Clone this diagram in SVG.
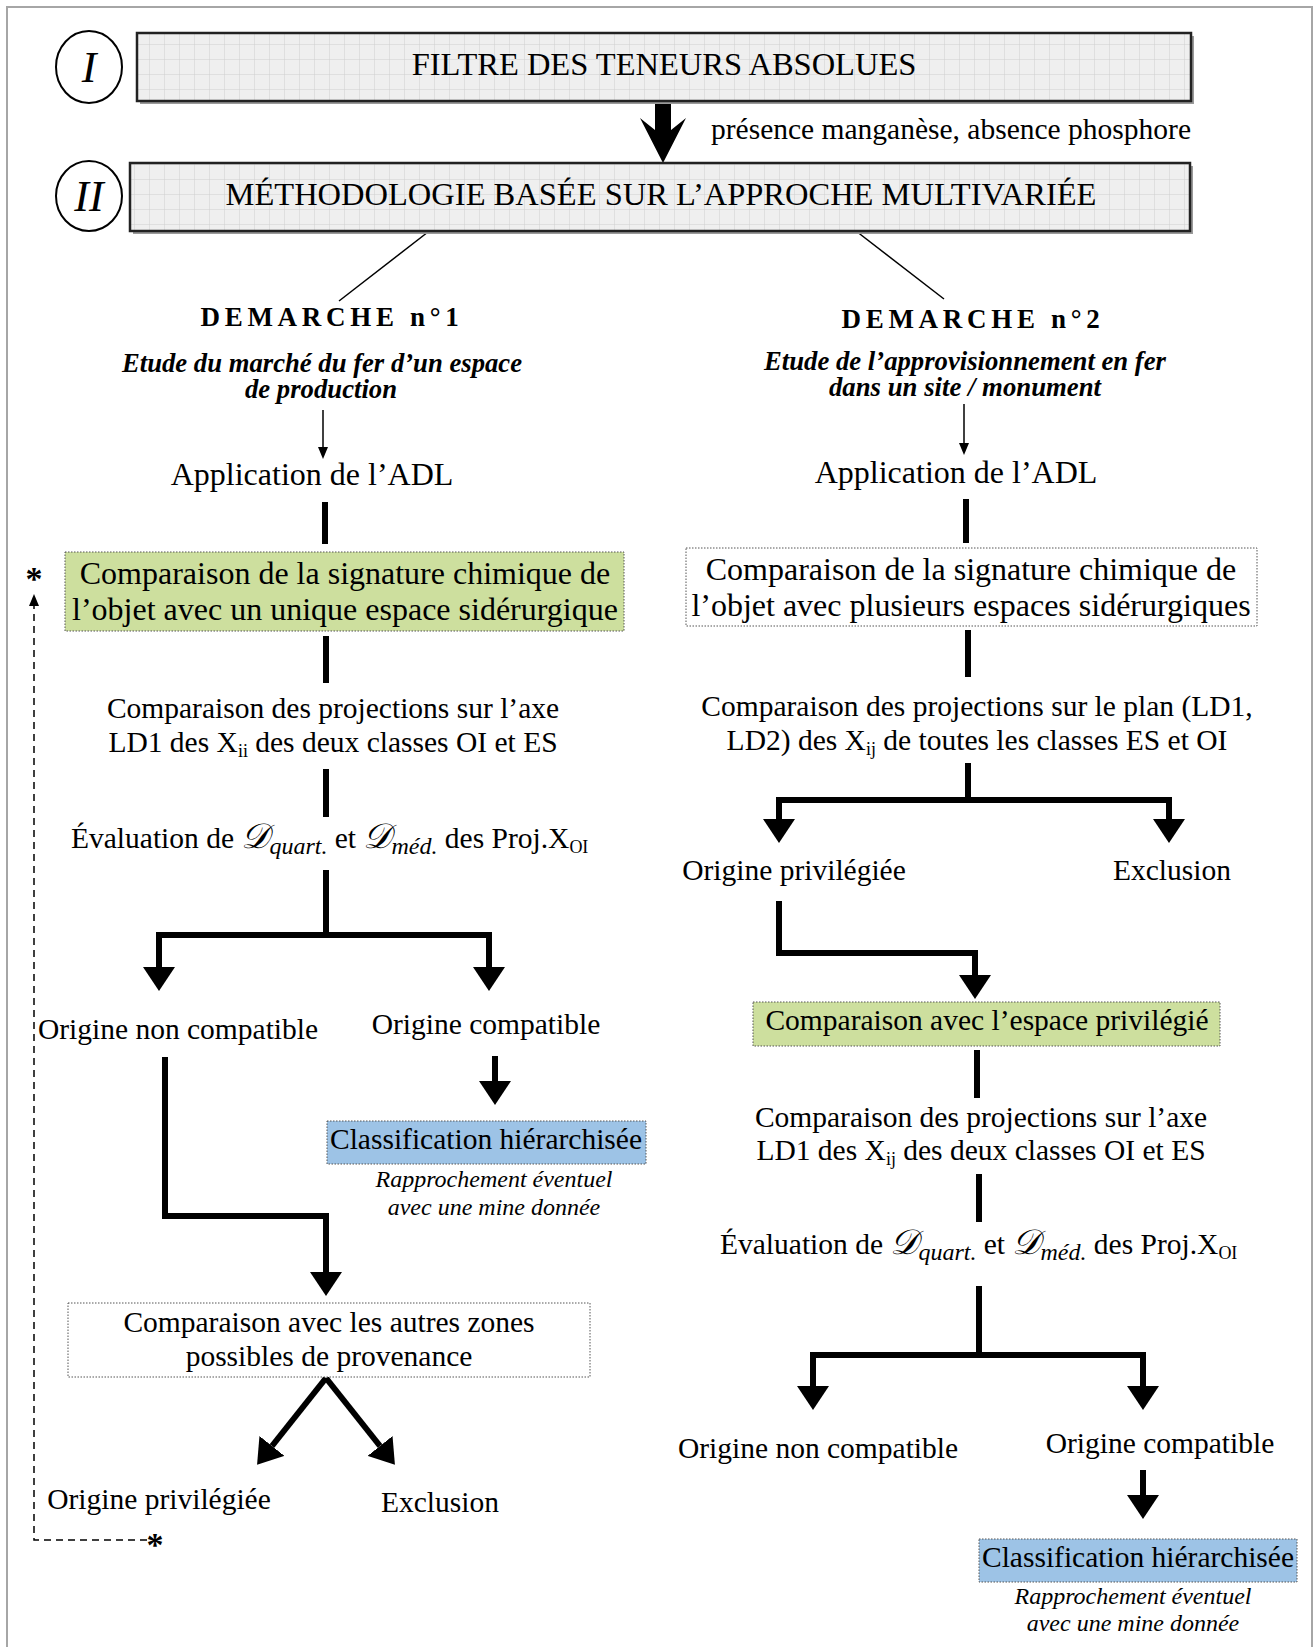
<svg xmlns="http://www.w3.org/2000/svg" width="1315" height="1647" viewBox="0 0 1315 1647">
<defs>
<pattern id="grid" width="15" height="15" patternUnits="userSpaceOnUse">
<rect width="15" height="15" fill="#efefef"/>
<path d="M15,0 V15 M0,15 H15" stroke="#cfcfcf" stroke-width="1" fill="none"/>
</pattern>
<marker id="big" markerUnits="userSpaceOnUse" viewBox="0 0 24 32" markerWidth="24" markerHeight="32" refX="0" refY="16" orient="auto">
<path d="M0,0 L24,16 L0,32 z" fill="#000"/>
</marker>
<marker id="small" markerUnits="userSpaceOnUse" viewBox="0 0 12 10" markerWidth="12" markerHeight="10" refX="0" refY="5" orient="auto">
<path d="M0,0 L12,5 L0,10 z" fill="#000"/>
</marker>
<marker id="dash" markerUnits="userSpaceOnUse" viewBox="0 0 12 10" markerWidth="12" markerHeight="10" refX="0" refY="5" orient="auto">
<path d="M0,0 L12,5 L0,10 z" fill="#000"/>
</marker>
</defs>
<style>
text{font-family:"Liberation Serif","Times New Roman",serif;fill:#000}
.t{font-size:29.5px;text-anchor:middle}
.L{font-size:32px;text-anchor:middle}
.h{font-size:32.5px;text-anchor:middle}
.sub{font-size:27px;font-weight:bold;font-style:italic;text-anchor:middle}
.dem{font-size:27px;font-weight:bold;letter-spacing:4.7px;text-anchor:middle}
.it{font-size:24px;font-style:italic;text-anchor:middle}
.hdr{fill:url(#grid);stroke:#222;stroke-width:2.5}
.shadow{fill:#9a9a9a}
.green{fill:#cddf9e;stroke:#555;stroke-width:1;stroke-dasharray:1.5,1.5}
.blue{fill:#9dc3e6;stroke:#555;stroke-width:1;stroke-dasharray:1.5,1.5}
.white{fill:#fff;stroke:#555;stroke-width:1;stroke-dasharray:1.5,1.5}
.thick{fill:none;stroke:#000;stroke-width:6}
.thin{fill:none;stroke:#000;stroke-width:1.5}
.sc{font-family:"DejaVu Serif","Liberation Serif",serif;font-style:italic;font-size:35px}
.si{font-size:24px;font-style:italic}
.ss{font-size:18px}
</style>
<rect x="7" y="7" width="1305" height="1660" fill="#fff" stroke="#a6a6a6" stroke-width="2"/>

<g id="connectors">
<polygon points="655,100 671,100 671,130 686,118 663,163 640,118 655,130" fill="#000"/>
<line class="thin" x1="428" y1="232" x2="339" y2="301"/>
<line class="thin" x1="856" y1="231" x2="944" y2="299"/>
<line class="thin" x1="323" y1="410" x2="323" y2="447" marker-end="url(#small)"/>
<line class="thin" x1="964" y1="404" x2="964" y2="443" marker-end="url(#small)"/>
<line class="thick" x1="325" y1="502" x2="325" y2="544"/>
<line class="thick" x1="966" y1="499" x2="966" y2="543"/>
<line class="thick" x1="326" y1="636" x2="326" y2="683"/>
<line class="thick" x1="968" y1="630" x2="968" y2="677"/>
<line class="thick" x1="326" y1="769" x2="326" y2="817"/>
<line class="thick" x1="968" y1="763" x2="968" y2="800"/>
<path class="thick" d="M779,821 V800 H1169 V821" />
<line class="thick" x1="779" y1="800" x2="779" y2="819" marker-end="url(#big)"/>
<line class="thick" x1="1169" y1="800" x2="1169" y2="819" marker-end="url(#big)"/>
<line class="thick" x1="326" y1="870" x2="326" y2="935"/>
<path class="thick" d="M159,966 V935 H489 V966"/>
<line class="thick" x1="159" y1="935" x2="159" y2="967" marker-end="url(#big)"/>
<line class="thick" x1="489" y1="935" x2="489" y2="967" marker-end="url(#big)"/>
<path class="thick" d="M165,1057 V1216 H326 V1272" marker-end="url(#big)"/>
<line class="thick" x1="495" y1="1056" x2="495" y2="1081" marker-end="url(#big)"/>
<line class="thick" x1="326" y1="1378" x2="272" y2="1446" marker-end="url(#big)"/>
<line class="thick" x1="326" y1="1378" x2="380" y2="1446" marker-end="url(#big)"/>
<path class="thick" d="M779,901 V953 H975 V975" marker-end="url(#big)"/>
<line class="thick" x1="977" y1="1050" x2="977" y2="1098"/>
<line class="thick" x1="979" y1="1174" x2="979" y2="1222"/>
<line class="thick" x1="979" y1="1286" x2="979" y2="1355"/>
<path class="thick" d="M813,1386 V1355 H1143 V1386"/>
<line class="thick" x1="813" y1="1355" x2="813" y2="1386" marker-end="url(#big)"/>
<line class="thick" x1="1143" y1="1355" x2="1143" y2="1386" marker-end="url(#big)"/>
<line class="thick" x1="1143" y1="1470" x2="1143" y2="1495" marker-end="url(#big)"/>
<path fill="none" stroke="#000" stroke-width="1.5" stroke-dasharray="7,5" d="M147,1540 H34 V606" marker-end="url(#dash)"/>
</g>

<g id="n-circle1"><ellipse cx="89" cy="67" rx="33" ry="36" fill="#fff" stroke="#000" stroke-width="2"/><text x="89" y="82" style="font-size:44px;font-style:italic;text-anchor:middle">I</text></g>
<g id="n-circle2"><ellipse cx="89" cy="196" rx="33" ry="35" fill="#fff" stroke="#000" stroke-width="2"/><text x="89" y="211" style="font-size:44px;font-style:italic;text-anchor:middle">II</text></g>

<g id="n-filtre"><rect class="shadow" x="140" y="36" width="1054" height="68"/><rect class="hdr" x="137" y="33" width="1054" height="68"/><text class="h" x="664" y="75">FILTRE DES TENEURS ABSOLUES</text></g>
<text x="711" y="139" style="font-size:29.5px">présence manganèse, absence phosphore</text>
<g id="n-methodo"><rect class="shadow" x="133" y="166" width="1060" height="68"/><rect class="hdr" x="130" y="163" width="1060" height="68"/><text class="h" x="661" y="205">MÉTHODOLOGIE BASÉE SUR L’APPROCHE MULTIVARIÉE</text></g>

<g id="n-dem1"><text class="dem" x="332" y="326">DEMARCHE  n°1</text>
<text class="sub" x="322" y="372" textLength="400" lengthAdjust="spacingAndGlyphs">Etude du marché du fer d’un espace</text>
<text class="sub" x="321" y="398" textLength="152" lengthAdjust="spacingAndGlyphs">de production</text></g>
<g id="n-dem2"><text class="dem" x="973" y="328">DEMARCHE  n°2</text>
<text class="sub" x="965" y="370" textLength="402" lengthAdjust="spacingAndGlyphs">Etude de l’approvisionnement en fer</text>
<text class="sub" x="965" y="396" textLength="272" lengthAdjust="spacingAndGlyphs">dans un site / monument</text></g>

<g id="n-adl1"><text class="L" x="312" y="485">Application de l’ADL</text></g>
<g id="n-adl2"><text class="L" x="956" y="483">Application de l’ADL</text></g>

<g id="n-comp1"><rect class="green" x="65" y="552" width="559" height="79"/><text class="L" x="345" y="584">Comparaison de la signature chimique de</text><text class="L" x="345" y="620">l’objet avec un unique espace sidérurgique</text></g>
<text x="34" y="590" style="font-size:34px;font-weight:bold;text-anchor:middle">*</text>
<text x="155" y="1556" style="font-size:34px;font-weight:bold;text-anchor:middle">*</text>

<g id="n-comp2"><rect class="white" x="686" y="548" width="571" height="78"/><text class="L" x="971" y="580">Comparaison de la signature chimique de</text><text class="L" x="971" y="616">l’objet avec plusieurs espaces sidérurgiques</text></g>

<g id="n-proj1"><text class="t" x="333" y="718">Comparaison des projections sur l’axe</text><text class="t" x="333" y="752">LD1 des X<tspan class="ss" dy="5">ii</tspan><tspan dy="-5"> des deux classes OI et ES</tspan></text></g>
<g id="n-proj2"><text class="t" x="977" y="716">Comparaison des projections sur le plan (LD1,</text><text class="t" x="977" y="750">LD2) des X<tspan class="ss" dy="5">ij</tspan><tspan dy="-5"> de toutes les classes ES et OI</tspan></text></g>

<g id="n-eval1"><text x="71" y="848" style="font-size:29.5px">Évaluation de <tspan class="sc">𝒟</tspan><tspan class="si" dy="6">quart.</tspan><tspan dy="-6"> et </tspan><tspan class="sc">𝒟</tspan><tspan class="si" dy="6">méd.</tspan><tspan dy="-6"> des Proj.X</tspan><tspan class="ss" dy="5">OI</tspan></text></g>

<g id="n-orig-pr2"><text class="t" x="794" y="880">Origine privilégiée</text></g>
<g id="n-excl2"><text class="t" x="1172" y="880">Exclusion</text></g>

<g id="n-nc1"><text class="t" x="178" y="1039">Origine non compatible</text></g>
<g id="n-c1"><text class="t" x="486" y="1034">Origine compatible</text></g>

<g id="n-class1"><rect class="blue" x="327" y="1121" width="319" height="43"/><text class="t" x="486" y="1149">Classification hiérarchisée</text>
<text class="it" x="494" y="1187">Rapprochement éventuel</text><text class="it" x="494" y="1215">avec une mine donnée</text></g>

<g id="n-espace"><rect class="green" x="753" y="1002" width="467" height="44"/><text class="t" x="987" y="1030">Comparaison avec l’espace privilégié</text></g>

<g id="n-proj3"><text class="t" x="981" y="1127">Comparaison des projections sur l’axe</text><text class="t" x="981" y="1160">LD1 des X<tspan class="ss" dy="5">ij</tspan><tspan dy="-5"> des deux classes OI et ES</tspan></text></g>

<g id="n-eval2"><text x="720" y="1254" style="font-size:29.5px">Évaluation de <tspan class="sc">𝒟</tspan><tspan class="si" dy="6">quart.</tspan><tspan dy="-6"> et </tspan><tspan class="sc">𝒟</tspan><tspan class="si" dy="6">méd.</tspan><tspan dy="-6"> des Proj.X</tspan><tspan class="ss" dy="5">OI</tspan></text></g>

<g id="n-autres"><rect class="white" x="68" y="1303" width="522" height="74"/><text class="t" x="329" y="1332">Comparaison avec les autres zones</text><text class="t" x="329" y="1366">possibles de provenance</text></g>

<g id="n-orig-pr1"><text class="t" x="159" y="1509">Origine privilégiée</text></g>
<g id="n-excl1"><text class="t" x="440" y="1512">Exclusion</text></g>

<g id="n-nc2"><text class="t" x="818" y="1458">Origine non compatible</text></g>
<g id="n-c2"><text class="t" x="1160" y="1453">Origine compatible</text></g>

<g id="n-class2"><rect class="blue" x="979" y="1539" width="318" height="43"/><text class="t" x="1138" y="1567">Classification hiérarchisée</text>
<text class="it" x="1133" y="1604">Rapprochement éventuel</text><text class="it" x="1133" y="1631">avec une mine donnée</text></g>
</svg>
